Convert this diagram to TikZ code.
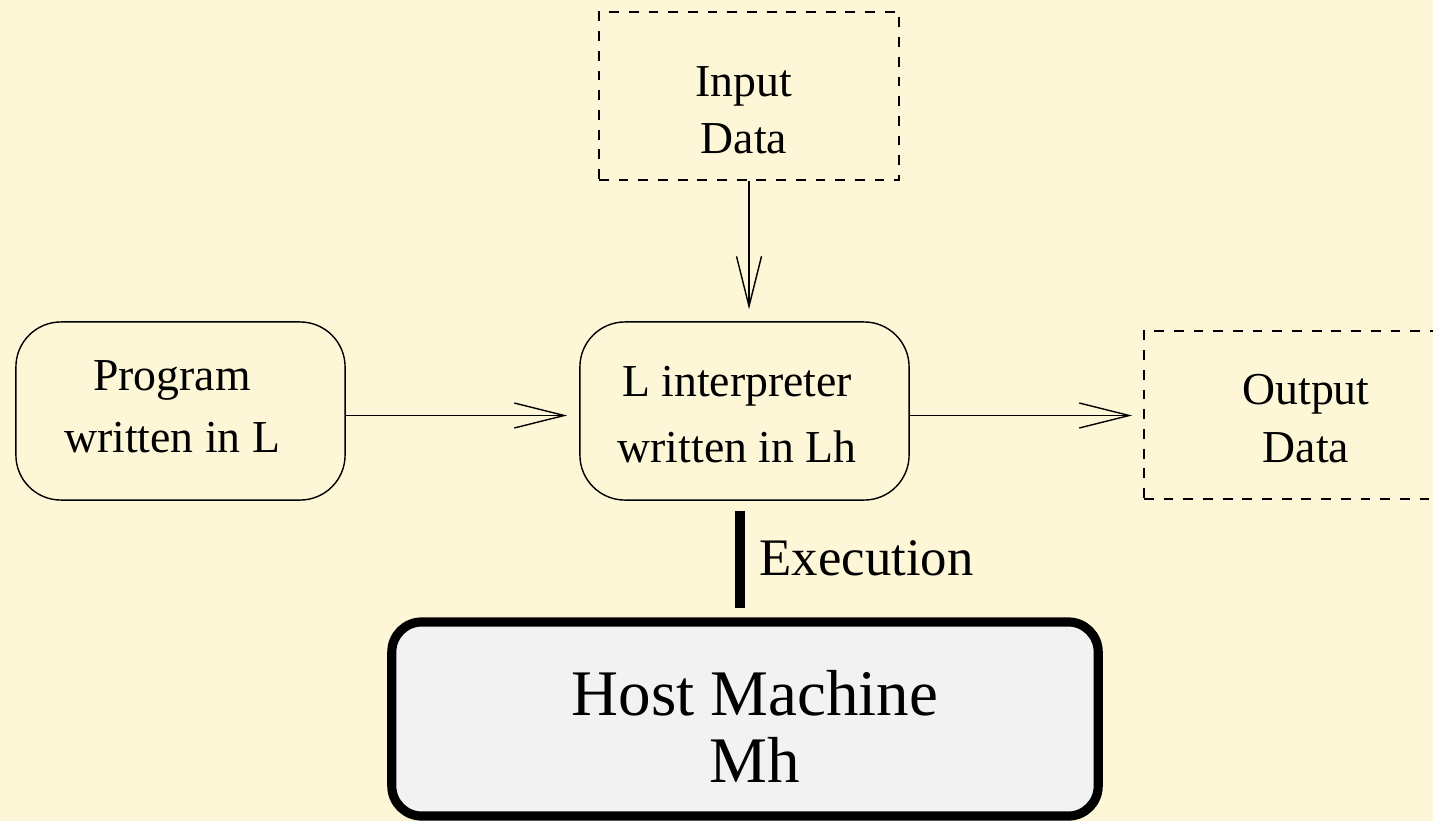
\documentclass[tikz,border=0pt]{standalone}
\usepackage{fontspec}
\setmainfont{Liberation Serif}
\usetikzlibrary{arrows.meta}
\definecolor{paper}{RGB}{253,247,215}
\definecolor{hostfill}{RGB}{242,242,242}
\tikzset{
  thinline/.style={line width=0.4pt, draw=black},
  softbox/.style={thinline, rectangle, rounded corners=0.45cm,
    minimum width=3.29cm, minimum height=1.78cm, inner sep=0pt},
  databox/.style={thinline, rectangle, dash pattern=on 2.8pt off 2.8pt,
    minimum width=3.0cm, minimum height=1.68cm, inner sep=0pt},
  hostbox/.style={rectangle, draw=black, line width=2.6pt, fill=hostfill,
    rounded corners=0.3cm, minimum width=7.06cm, minimum height=1.94cm, inner sep=0pt},
  boxtext/.style={anchor=base, align=center, inner sep=0pt},
  flow/.style={thinline, -{Straight Barb[length=0.5cm, width=0.25cm, line width=0.4pt]}},
  execline/.style={line width=2.8pt, draw=black},
}
\begin{document}
\begin{tikzpicture}[x=0.01cm, y=-0.01cm]
  \fill[paper] (0,0) rectangle (1433,821);
  \useasboundingbox (0,0) rectangle (1433,821);

  % boxes
  \node[softbox] (prog) at (180.5,411) {};
  \node[softbox] (interp) at (744.5,411) {};
  \node[databox] (input) at (749,96) {};
  \node[databox] (output) at (1294,415) {};
  \node[hostbox] (host) at (745,719) {};

  % box texts
  \node[boxtext, font=\fontsize{13}{17.6}\selectfont] (progtext) at (172,452) {Program\\written in L};
  \node[boxtext, font=\fontsize{13}{18.5}\selectfont] (interptext) at (737,462) {L interpreter\\written in Lh};
  \node[boxtext, font=\fontsize{13}{16}\selectfont] (inputtext) at (744,153) {Input\\Data};
  \node[boxtext, font=\fontsize{13}{16.3}\selectfont] (outputtext) at (1306,462) {Output\\Data};
  \node[boxtext, font=\fontsize{18.5}{18.8}\selectfont] (hosttext) at (755,782) {Host Machine\\Mh};

  % data flow
  \coordinate (progout) at ([yshift=-0.045cm]prog.east);
  \coordinate (interpout) at ([yshift=-0.045cm]interp.east);
  \draw[flow, shorten >=0.12cm] (progout) -- (progout -| interp.west);
  \draw[flow, shorten >=0.11cm] (interpout) -- (interpout -| output.west);
  \draw[flow, shorten >=0.12cm] (input.south) -- (input.south |- interp.north);

  % execution link
  \coordinate (exectop) at ([xshift=-0.045cm]interp.south);
  \draw[execline, shorten <=0.1cm, shorten >=0.09cm] (exectop) -- (exectop |- host.north);
  \node[anchor=base west, inner sep=0pt, font=\fontsize{15}{18}\selectfont] (exectext) at (759,575) {Execution};
\end{tikzpicture}
\end{document}
